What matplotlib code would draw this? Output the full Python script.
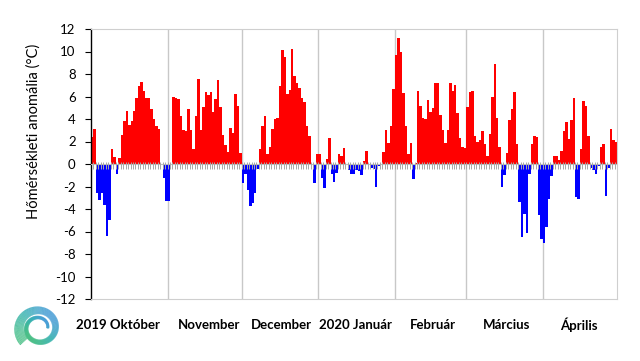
import numpy as np
import matplotlib
matplotlib.use("Agg")
import matplotlib.pyplot as plt
from matplotlib.collections import LineCollection
from matplotlib.colors import LinearSegmentedColormap

plt.rcParams["font.family"] = ["Lato", "DejaVu Sans"]
plt.rcParams["axes.unicode_minus"] = False

# daily temperature anomalies (°C), 2019-10-01 .. 2020-04-30
okt = [2.4, 3.1, -2.6, -3.2, -2.6, -3.6, -6.4, -5.0, 1.35, 0.6, -0.9, 0.55, 2.6, 3.8, 4.7, 3.5,
       3.8, 4.7, 5.9, 6.9, 7.3, 6.5, 5.9, 5.9, 4.9, 4.0, 3.4, 3.1, -0.1, -1.2, -3.3]
nov = [-3.3, 0.0, 6.0, 5.9, 5.8, 4.3, 3.0, 2.9, 4.9, 3.0, 1.3, 4.3, 7.6, 3.0, 5.1, 6.4,
       6.1, 6.4, 4.6, 5.8, 7.5, 5.1, 2.6, 1.65, 1.05, 3.2, 2.8, 6.2, 5.2, 1.0]
dec = [-1.7, -0.9, -2.3, -3.7, -3.5, -2.6, -0.4, 1.3, 3.4, 4.3, 0.85, 1.5, 3.1, 4.0, 4.1, 6.9,
       10.1, 9.5, 6.2, 6.6, 10.2, 7.8, 7.2, 6.8, 5.9, 5.5, 3.4, 2.5, -0.1, -1.7, 0.85]
jan = [0.85, -1.2, -2.1, 0.45, 2.3, -0.9, -1.6, -0.8, 0.9, 0.7, 1.4, 0.0, -0.5, -0.9, -0.9, -0.5,
       -0.6, -1.0, 0.3, 1.2, 0.0, -0.35, -0.45, -2.0, -0.2, 0.0, 1.05, 3.0, 1.9, 3.4, 6.7]
feb = [9.7, 11.2, 10.0, 6.3, 3.4, 0.9, 1.9, -1.3, 0.1, 6.5, 5.2, 4.1, 4.0, 5.7, 4.6, 5.0,
       7.2, 7.2, 4.4, 3.0, 1.9, 3.0, 7.2, 6.5, 7.0, 4.5, 2.3, 1.5, 1.4]
mar = [5.1, 6.4, 6.5, 2.5, 1.95, 2.1, 2.9, 1.8, 0.7, 2.7, 6.0, 8.9, 4.1, 1.5, -2.0, -1.0,
       1.0, 3.9, 4.9, 6.4, 1.8, -3.4, -6.5, -4.4, -6.1, -0.9, 1.8, 2.5, 2.4, -4.5, -6.7]
apr = [-7.0, -5.6, -3.1, -1.1, 0.7, 0.7, 0.4, 1.2, 2.9, 3.7, 2.2, 3.9, 5.9, -2.9, -3.1, 1.35,
       5.6, 5.2, 2.5, -0.35, -0.5, -0.9, -0.2, 1.5, 1.8, -2.8, -0.35, 3.1, 2.1, 2.0]

month_labels = ["2019 Október", "November", "December", "2020 Január", "Február", "Március", "Április"]
month_data = [okt, nov, dec, jan, feb, mar, apr]
label_shift = [-4.5, 2.0, 0.5, -0.5, 0.8, 0.8, -0.5]  # days, nudges to match the original

values = np.array(sum(month_data, []))
n = len(values)
days = np.arange(n)
colors = np.where(values >= 0, "#FF0000", "#0000FF")

fig = plt.figure(figsize=(6.4, 3.61), dpi=100)
fig.patch.set_facecolor("white")
ax = fig.add_axes([91 / 640, 1 - 299 / 361, 526 / 640, 270 / 361])

ax.bar(days + 0.5, values, width=1.0, color=colors, linewidth=0, zorder=2)
ax.set_xlim(0, n)
ax.set_ylim(-12, 12)
ax.set_yticks(range(-12, 13, 2))
ax.set_xticks([])
ax.tick_params(axis="y", direction="out", length=4, width=0.8, labelsize=9.5, pad=7)

edges = np.cumsum([len(m) for m in month_data])
for b in edges[:-1]:
    ax.axvline(b, color="#c8c8c8", lw=1.0, zorder=1)
ax.axhline(0, color="#c0c0c0", lw=0.8, zorder=3)
ax.vlines(np.arange(1, n), -0.4, 0.2, colors="#a8a8a8", lw=0.7, zorder=3)

for s in ("top", "right", "bottom"):
    ax.spines[s].set_color("#cfcfcf")
ax.spines["left"].set_color("black")
ax.spines["left"].set_linewidth(1.0)

starts = np.concatenate([[0], edges[:-1]])
for lab, s0, e0, sh in zip(month_labels, starts, edges, label_shift):
    ax.text((s0 + e0) / 2 + sh, -14.3, lab, ha="center", va="center",
            fontsize=9.5, fontweight="bold", clip_on=False)

fig.text(34 / 640, 1 - 131 / 361, "Hőmérsékleti anomália (°C)", rotation=90,
         ha="center", va="center", fontsize=10.5)

# logo: striped spiral
lax = fig.add_axes([10 / 640, 1 - 356 / 361, 58 / 640, 56 / 361])
lax.set_xlim(-1.15, 1.15)
lax.set_ylim(-1.15, 1.15)
lax.axis("off")
cmap = LinearSegmentedColormap.from_list("logo", ["#4a9fd8", "#35b3b0", "#45bf84"])
t = np.linspace(0, 1, 300)
ang = 3.9 - t * 10.2
for k in range(8):
    r = (1.0 - 0.62 * t) * (1.0 - 0.05 * k * (1 - 0.5 * t))
    x = r * np.cos(ang)
    y = r * np.sin(ang)
    pts = np.array([x, y]).T.reshape(-1, 1, 2)
    segs = np.concatenate([pts[:-1], pts[1:]], axis=1)
    lc = LineCollection(segs, cmap=cmap, linewidths=0.9)
    lc.set_array((np.sin(ang[:-1] - 2.4) + 1) / 2)
    lax.add_collection(lc)

fig.savefig("out.png", dpi=100, facecolor="white")
